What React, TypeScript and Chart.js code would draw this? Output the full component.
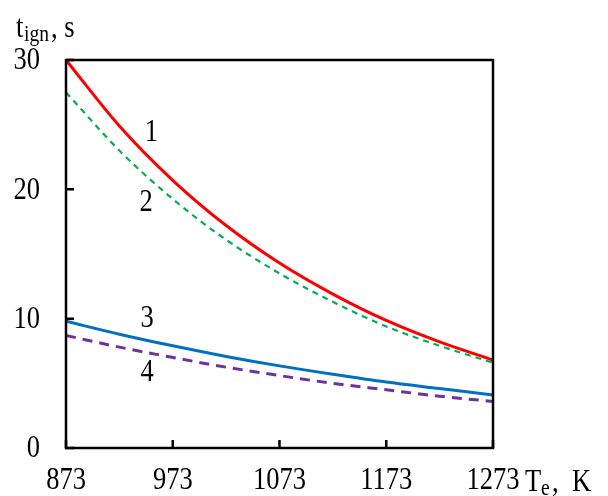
import React, { useEffect, useRef } from "react";
import { Chart, registerables } from "chart.js";

Chart.register(...registerables);

const temps = [873, 923, 973, 1023, 1073, 1123, 1173, 1223, 1273];
const curve1 = [30, 24.9, 20.7, 17.2, 14.3, 11.9, 9.86, 8.2, 6.8];
const curve2 = [27.5, 23.0, 19.25, 16.1, 13.5, 11.3, 9.4, 7.9, 6.6];
const curve3 = [9.8, 8.8, 7.9, 7.08, 6.35, 5.7, 5.1, 4.6, 4.1];
const curve4 = [8.7, 7.8, 7.0, 6.25, 5.6, 5.0, 4.5, 4.0, 3.6];
const xTicks = [873, 973, 1073, 1173, 1273];
const yTicks = [0, 10, 20, 30];
const curveLabels = ["1", "2", "3", "4"];
const labelX = [953, 948, 949, 949];
const labelY = [24.4, 19.0, 10.05, 5.8];

const FONT = "'Liberation Serif', 'Times New Roman', serif";
const SZ = 26.5;
const VS = 1.22;

function txt(ctx: any, s: string, x: number, y: number, size: number, align: string, base: string) {
  ctx.save();
  ctx.translate(x, y);
  ctx.scale(1, VS);
  ctx.font = `${size}px ${FONT}`;
  ctx.textAlign = align;
  ctx.textBaseline = base;
  ctx.fillStyle = "#000";
  ctx.fillText(s, 0, 0);
  ctx.restore();
}

const overlay = {
  id: "overlay",
  afterDraw(chart: any) {
    const { ctx, chartArea: a, scales } = chart;
    const xs = scales.x;
    const ys = scales.y;
    ctx.save();
    ctx.strokeStyle = "#000";
    ctx.lineWidth = 2.5;
    ctx.strokeRect(a.left, a.top, a.right - a.left, a.bottom - a.top);
    ctx.beginPath();
    xTicks.forEach((v) => {
      const px = xs.getPixelForValue(v);
      ctx.moveTo(px, a.bottom);
      ctx.lineTo(px, a.bottom - 8);
    });
    yTicks.forEach((v) => {
      const py = ys.getPixelForValue(v);
      ctx.moveTo(a.left, py);
      ctx.lineTo(a.left + 8, py);
    });
    ctx.stroke();
    ctx.restore();
    xTicks.forEach((v) => txt(ctx, String(v), xs.getPixelForValue(v), 481, SZ, "center", "middle"));
    yTicks.forEach((v) => txt(ctx, String(v), 40, ys.getPixelForValue(v) + 1, SZ, "right", "middle"));
    curveLabels.forEach((t, i) =>
      txt(ctx, t, xs.getPixelForValue(labelX[i]), ys.getPixelForValue(labelY[i]), SZ, "center", "middle")
    );
    txt(ctx, "t", 16, 37, SZ, "left", "alphabetic");
    txt(ctx, "ign", 24, 41, 19.5, "left", "alphabetic");
    txt(ctx, ", s", 51, 37, SZ, "left", "alphabetic");
    txt(ctx, "T", 525, 491, SZ, "left", "alphabetic");
    txt(ctx, "e", 541, 495, 19.5, "left", "alphabetic");
    txt(ctx, ",", 552, 491, SZ, "left", "alphabetic");
    txt(ctx, "K", 572, 491, SZ, "left", "alphabetic");
  },
};

export default function App() {
  const ref = useRef<HTMLCanvasElement>(null);
  useEffect(() => {
    if (!ref.current) return;
    const mk = (arr: number[]) => temps.map((t, i) => ({ x: t, y: arr[i] }));
    const chart = new Chart(ref.current, {
      type: "line",
      data: {
        datasets: [
          { data: mk(curve1), borderColor: "#ff0000", borderWidth: 3, pointRadius: 0, cubicInterpolationMode: "monotone" },
          { data: mk(curve2), borderColor: "#00b050", borderWidth: 2.2, borderDash: [6, 5], pointRadius: 0, cubicInterpolationMode: "monotone" },
          { data: mk(curve3), borderColor: "#0070c0", borderWidth: 3, pointRadius: 0, cubicInterpolationMode: "monotone" },
          { data: mk(curve4), borderColor: "#7030a0", borderWidth: 3, borderDash: [10, 7], pointRadius: 0, cubicInterpolationMode: "monotone" },
        ],
      },
      options: {
        responsive: false,
        animation: false,
        layout: { padding: { top: 60, right: 115, left: 0, bottom: 0 } },
        plugins: { legend: { display: false }, tooltip: { enabled: false } },
        scales: {
          x: {
            type: "linear",
            min: 873,
            max: 1273,
            afterBuildTicks: (s: any) => {
              s.ticks = xTicks.map((v) => ({ value: v }));
            },
            afterFit: (s: any) => {
              s.height = 48;
            },
            grid: { display: false, drawTicks: false },
            border: { display: false },
            ticks: { display: false },
          },
          y: {
            min: 0,
            max: 30,
            afterBuildTicks: (s: any) => {
              s.ticks = yTicks.map((v) => ({ value: v }));
            },
            afterFit: (s: any) => {
              s.width = 66;
            },
            grid: { display: false, drawTicks: false },
            border: { display: false },
            ticks: { display: false },
          },
        },
      },
      plugins: [overlay],
    });
    return () => chart.destroy();
  }, []);
  return (
    <div style={{ position: "absolute", left: 0, top: 0, width: 608, height: 496, background: "#fff" }}>
      <canvas ref={ref} width={608} height={496} style={{ width: 608, height: 496 }} />
    </div>
  );
}
